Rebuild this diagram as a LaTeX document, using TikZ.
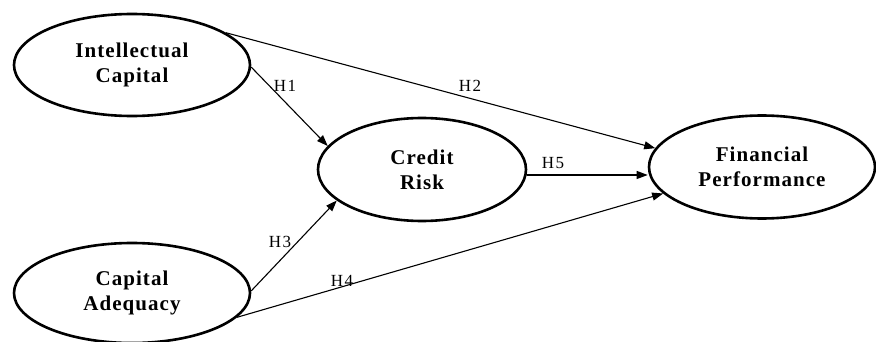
\documentclass[tikz,border=0pt]{standalone}
\usepackage{fontspec}
\setmainfont{Liberation Serif}
\newfontfamily\boxfont{Liberation Serif}[LetterSpace=5]
\newfontfamily\hypfont{Liberation Serif}[LetterSpace=8]
\usetikzlibrary{shapes.geometric,arrows.meta}
\tikzset{
  latent/.style={draw, ellipse, line width=2.6pt, inner sep=0pt, align=center,
    font=\boxfont\bfseries\fontsize{21}{25}\selectfont},
  path/.style={line width=1.1pt, -{Triangle[length=11pt,width=8pt]}},
  hyp/.style={inner sep=0pt, font=\hypfont\fontsize{17}{19}\selectfont}
}
\begin{document}
\begin{tikzpicture}[x=1pt,y=-1pt]
\useasboundingbox (0,0) rectangle (876,342);
\node[latent, minimum width=236pt, minimum height=102pt] (ic) at (132,65) {Intellectual\\Capital};
\node[latent, minimum width=236pt, minimum height=100pt] (ca) at (132,293) {Capital\\Adequacy};
\node[latent, minimum width=208pt, minimum height=103pt] (cr) at (422,169.5) {Credit\\Risk};
\node[latent, minimum width=226pt, minimum height=103pt] (fp) at (762,167) {Financial\\Performance};
\draw[path] (ic.-1) -- (cr.166);
\draw[path] (ic.19) -- (fp.170);
\draw[path] (ca.1.5) -- (cr.200);
\draw[path] (ca.-13) -- (fp.195);
\draw[path] (cr.-3) -- (cr.-3 -| fp.west);
\node[hyp] (h1) at (285,86) {H1};
\node[hyp] (h2) at (470,86) {H2};
\node[hyp] (h3) at (280,242) {H3};
\node[hyp] (h4) at (342,281) {H4};
\node[hyp] (h5) at (553,163) {H5};
\end{tikzpicture}
\end{document}
